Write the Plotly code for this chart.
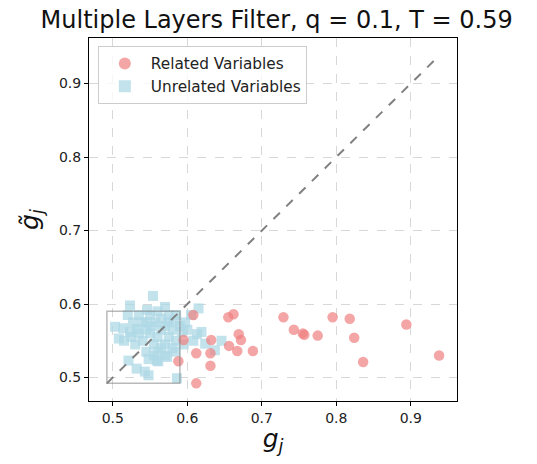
import plotly.graph_objects as go

title_text = "Multiple Layers Filter, q = 0.1, T = 0.59"
T = 0.59

related_x = [0.608, 0.655, 0.662, 0.729, 0.795, 0.818, 0.894, 0.743, 0.755, 0.757,
             0.775, 0.824, 0.669, 0.672, 0.632, 0.595, 0.656, 0.612, 0.631, 0.667,
             0.688, 0.631, 0.836, 0.938, 0.612, 0.588]
related_y = [0.585, 0.582, 0.586, 0.582, 0.582, 0.580, 0.572, 0.565, 0.560, 0.558,
             0.557, 0.554, 0.559, 0.551, 0.551, 0.551, 0.543, 0.533, 0.533, 0.536,
             0.536, 0.516, 0.521, 0.530, 0.492, 0.522]

unrelated_x = [0.554, 0.523, 0.546, 0.570, 0.615, 0.503, 0.514, 0.532, 0.508, 0.523,
               0.557, 0.575, 0.597, 0.593, 0.613, 0.619, 0.646, 0.637, 0.624, 0.521,
               0.532, 0.543, 0.548, 0.559, 0.570, 0.586,
               0.535, 0.545, 0.550, 0.540, 0.555, 0.560, 0.565, 0.570, 0.575, 0.580,
               0.585, 0.575, 0.565, 0.560, 0.550, 0.545, 0.535, 0.530, 0.545, 0.555,
               0.565, 0.580, 0.585, 0.590, 0.570, 0.552, 0.540, 0.527, 0.560, 0.548,
               0.573, 0.582, 0.605, 0.600, 0.595, 0.608, 0.520, 0.515, 0.525, 0.584,
               0.561]
unrelated_y = [0.611, 0.598, 0.592, 0.596, 0.594, 0.569, 0.567, 0.566, 0.553, 0.562,
               0.575, 0.575, 0.575, 0.562, 0.559, 0.562, 0.550, 0.537, 0.546, 0.523,
               0.512, 0.508, 0.503, 0.523, 0.530, 0.499,
               0.585, 0.575, 0.560, 0.550, 0.545, 0.555, 0.565, 0.545, 0.555, 0.565,
               0.585, 0.585, 0.580, 0.590, 0.585, 0.565, 0.560, 0.545, 0.535, 0.530,
               0.540, 0.540, 0.550, 0.570, 0.570, 0.570, 0.575, 0.575, 0.535, 0.525,
               0.528, 0.578, 0.585, 0.565, 0.545, 0.550, 0.585, 0.550, 0.555, 0.535,
               0.522]

x_ticks = [0.5, 0.6, 0.7, 0.8, 0.9]
y_ticks = [0.5, 0.6, 0.7, 0.8, 0.9]
axis_range = [0.468, 0.962]

all_vals = related_x + related_y + unrelated_x + unrelated_y
lo = min(all_vals)
hi = max(all_vals)

fig = go.Figure()
fig.add_trace(go.Scatter(
    x=unrelated_x, y=unrelated_y, mode="markers", name="Unrelated Variables",
    marker=dict(symbol="square", size=10, color="rgba(173,216,230,0.75)", line=dict(width=0)),
))
fig.add_trace(go.Scatter(
    x=related_x, y=related_y, mode="markers", name="Related Variables",
    marker=dict(symbol="circle", size=10.5, color="rgba(240,128,128,0.7)", line=dict(width=0)),
))
# diagonal
fig.add_trace(go.Scatter(
    x=[lo, hi], y=[lo, hi], mode="lines", showlegend=False, hoverinfo="skip",
    line=dict(color="rgba(128,128,128,1)", width=2, dash="dash"),
))
# threshold rectangle
fig.add_shape(type="rect", x0=lo, y0=lo, x1=T, y1=T, xref="x", yref="y",
              line=dict(color="rgba(128,128,128,0.55)", width=1.5), layer="above")

axis_common = dict(
    range=axis_range, showline=True, linecolor="black", linewidth=1, mirror=True,
    ticks="outside", ticklen=4, tickwidth=1, tickcolor="black",
    showgrid=True, gridcolor="rgba(200,200,200,0.7)", griddash="dash", gridwidth=1,
    zeroline=False, tickfont=dict(size=14, color="#222"), automargin=False,
)
fig.update_xaxes(**axis_common, tickvals=x_ticks, ticktext=[f"{v:.1f}" for v in x_ticks],
                 title=dict(text="<i>g<sub>j</sub></i>", font=dict(size=25, color="#111"), standoff=4))
fig.update_yaxes(**axis_common, tickvals=y_ticks, ticktext=[f"{v:.1f}" for v in y_ticks],
                 title=dict(text="<i>g̃<sub>j</sub></i>", font=dict(size=25, color="#111"), standoff=13))

fig.update_layout(
    width=521, height=448,
    margin=dict(l=81, r=72, t=30, b=55),
    paper_bgcolor="white", plot_bgcolor="white",
    font=dict(family="DejaVu Sans", color="#222"),
    title=dict(text=title_text, xref="paper", x=0.51, xanchor="center",
               yref="container", y=0.992, yanchor="top", pad=dict(t=0, b=0),
               font=dict(size=24, color="#111")),
    legend=dict(x=0.024, y=0.978, xanchor="left", yanchor="top",
                bgcolor="rgba(255,255,255,0.8)", bordercolor="rgba(204,204,204,1)", borderwidth=1,
                font=dict(size=15.3), traceorder="reversed", itemsizing="constant",
                itemwidth=42),
    showlegend=True,
)

fig.write_html("out.html")
